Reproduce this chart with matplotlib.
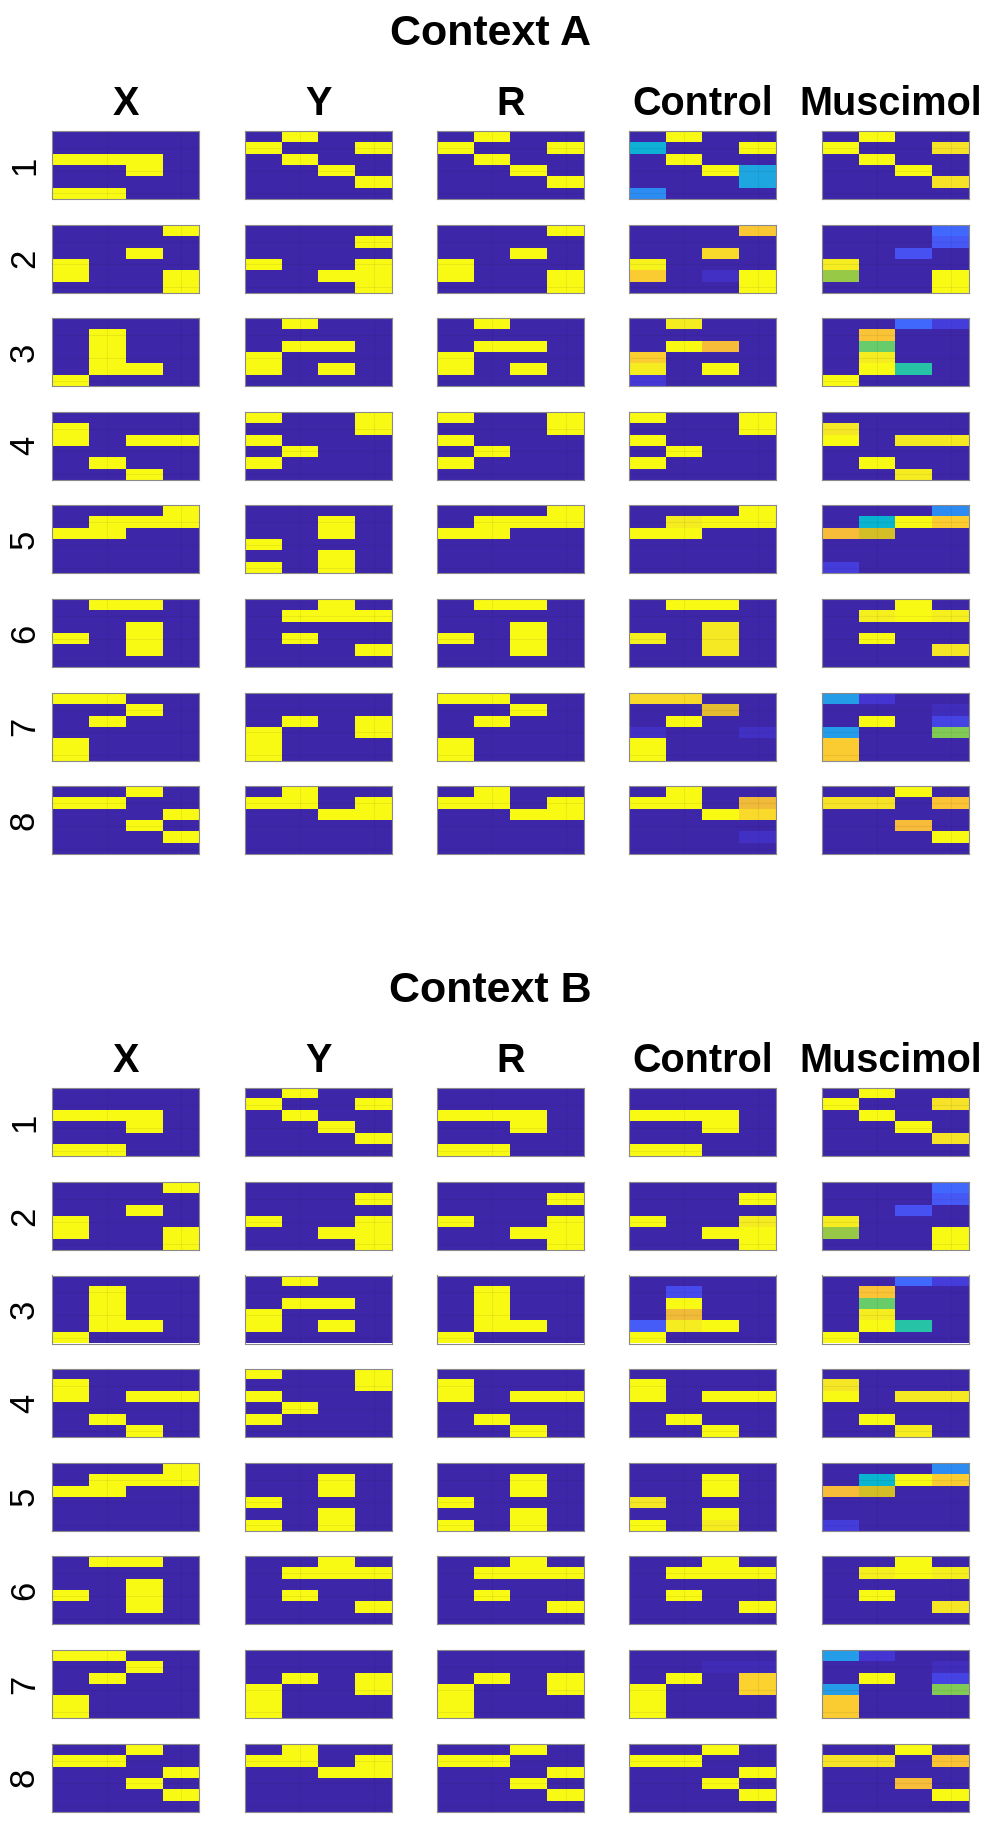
import numpy as np
import matplotlib
matplotlib.use("Agg")
import matplotlib.pyplot as plt
from matplotlib.colors import LinearSegmentedColormap

# ---------------- data ----------------
CONTEXTS = ["Context A", "Context B"]
COLUMNS = ["X", "Y", "R", "Control", "Muscimol"]
ROW_LABELS = ["1", "2", "3", "4", "5", "6", "7", "8"]

X_PATTERNS = [
    [[0, 0, 0, 0], [0, 0, 0, 0], [1, 1, 1, 0], [0, 0, 1, 0], [0, 0, 0, 0], [1, 1, 0, 0]],
    [[0, 0, 0, 1], [0, 0, 0, 0], [0, 0, 1, 0], [1, 0, 0, 0], [1, 0, 0, 1], [0, 0, 0, 1]],
    [[0, 0, 0, 0], [0, 1, 0, 0], [0, 1, 0, 0], [0, 1, 0, 0], [0, 1, 1, 0], [1, 0, 0, 0]],
    [[0, 0, 0, 0], [1, 0, 0, 0], [1, 0, 1, 1], [0, 0, 0, 0], [0, 1, 0, 0], [0, 0, 1, 0]],
    [[0, 0, 0, 1], [0, 1, 1, 1], [1, 1, 0, 0], [0, 0, 0, 0], [0, 0, 0, 0], [0, 0, 0, 0]],
    [[0, 1, 1, 0], [0, 0, 0, 0], [0, 0, 1, 0], [1, 0, 1, 0], [0, 0, 1, 0], [0, 0, 0, 0]],
    [[1, 1, 0, 0], [0, 0, 1, 0], [0, 1, 0, 0], [0, 0, 0, 0], [1, 0, 0, 0], [1, 0, 0, 0]],
    [[0, 0, 1, 0], [1, 1, 0, 0], [0, 0, 0, 1], [0, 0, 1, 0], [0, 0, 0, 1], [0, 0, 0, 0]],
]

Y_PATTERNS = [
    [[0, 1, 0, 0], [1, 0, 0, 1], [0, 1, 0, 0], [0, 0, 1, 0], [0, 0, 0, 1], [0, 0, 0, 0]],
    [[0, 0, 0, 0], [0, 0, 0, 1], [0, 0, 0, 0], [1, 0, 0, 1], [0, 0, 1, 1], [0, 0, 0, 1]],
    [[0, 1, 0, 0], [0, 0, 0, 0], [0, 1, 1, 0], [1, 0, 0, 0], [1, 0, 1, 0], [0, 0, 0, 0]],
    [[1, 0, 0, 1], [0, 0, 0, 1], [1, 0, 0, 0], [0, 1, 0, 0], [1, 0, 0, 0], [0, 0, 0, 0]],
    [[0, 0, 0, 0], [0, 0, 1, 0], [0, 0, 1, 0], [1, 0, 0, 0], [0, 0, 1, 0], [1, 0, 1, 0]],
    [[0, 0, 1, 0], [0, 1, 1, 1], [0, 0, 0, 0], [0, 1, 0, 0], [0, 0, 0, 1], [0, 0, 0, 0]],
    [[0, 0, 0, 0], [0, 0, 0, 0], [0, 1, 0, 1], [1, 0, 0, 1], [1, 0, 0, 0], [1, 0, 0, 0]],
    [[0, 1, 0, 0], [1, 1, 0, 1], [0, 0, 1, 1], [0, 0, 0, 0], [0, 0, 0, 0], [0, 0, 0, 0]],
]

# which pattern the "R" column shows in each row
R_SOURCE_A = ["Y", "X", "Y", "Y", "X", "X", "X", "Y"]
R_SOURCE_B = ["X", "Y", "X", "X", "Y", "Y", "Y", "X"]

CONTROL_A = [
    [[0, 1, 0, 0], [0.42, 0, 0, 1], [0, 1, 0, 0], [0, 0, 1, 0.38], [0, 0, 0, 0.38], [0.30, 0, 0, 0]],
    [[0, 0, 0, 0.85], [0, 0, 0, 0], [0, 0, 0.90, 0], [0.97, 0, 0, 0], [0.86, 0, 0.04, 1], [0, 0, 0, 1]],
    [[0, 0.95, 0, 0], [0, 0, 0, 0], [0, 1, 0.82, 0], [0.87, 0, 0, 0], [0.95, 0, 1, 0], [0.07, 0, 0, 0]],
    [[1, 0, 0, 1], [0, 0, 0, 1], [1, 0, 0, 0], [0, 1, 0, 0], [1, 0, 0, 0], [0, 0, 0, 0]],
    [[0, 0, 0, 1], [0, 0.95, 1, 1], [1, 1, 0, 0], [0, 0, 0, 0], [0, 0, 0, 0], [0, 0, 0, 0]],
    [[0, 1, 1, 0], [0, 0, 0, 0], [0, 0, 0.94, 0], [0.96, 0, 0.94, 0], [0, 0, 0.94, 0], [0, 0, 0, 0]],
    [[0.90, 0.90, 0, 0], [0, 0, 0.78, 0], [0, 1, 0, 0], [0.04, 0, 0, 0.04], [1, 0, 0, 0], [1, 0, 0, 0]],
    [[0, 1, 0, 0], [1, 1, 0, 0.80], [0, 0, 1, 0.90], [0, 0, 0, 0], [0, 0, 0, 0.04], [0, 0, 0, 0]],
]

CONTROL_B = [
    [[0, 0, 0, 0], [0, 0, 0, 0], [1, 1, 1, 0], [0, 0, 1, 0], [0, 0, 0, 0], [1, 1, 0, 0]],
    [[0, 0, 0, 0], [0, 0, 0, 1], [0, 0, 0, 0], [1, 0, 0, 0.95], [0, 0, 1, 1], [0, 0, 0, 1]],
    [[0, 0, 0, 0], [0, 0.12, 0, 0], [0, 1, 0, 0], [0, 0.80, 0, 0], [0.17, 0.95, 1, 0], [1, 0, 0, 0]],
    [[0, 0, 0, 0], [1, 0, 0, 0], [1, 0, 1, 1], [0, 0, 0, 0], [0, 1, 0, 0], [0, 0, 1, 0]],
    [[0, 0, 0, 0], [0, 0, 1, 0], [0, 0, 1, 0], [0.93, 0, 0, 0], [0, 0, 1, 0], [1, 0, 0.95, 0]],
    [[0, 0, 1, 0], [0, 1, 1, 1], [0, 0, 0, 0], [0, 1, 0, 0], [0, 0, 0, 1], [0, 0, 0, 0]],
    [[0, 0, 0, 0], [0, 0, 0.02, 0.02], [0, 1, 0, 0.88], [1, 0, 0, 0.88], [1, 0, 0, 0], [1, 0, 0, 0]],
    [[0, 0, 1, 0], [1, 1, 0, 0], [0, 0, 0, 1], [0, 0, 1, 0], [0, 0, 0, 1], [0, 0, 0, 0]],
]

MUSCIMOL_A = [
    [[0, 1, 0, 0], [1, 0, 0, 0.92], [0, 1, 0, 0], [0, 0, 1, 0], [0, 0, 0, 0.92], [0, 0, 0, 0]],
    [[0, 0, 0, 0.20], [0, 0, 0, 0.16], [0, 0, 0.14, 0], [0.95, 0, 0, 0], [0.68, 0, 0, 1], [0, 0, 0, 1]],
    [[0, 0, 0.20, 0.08], [0, 0.84, 0, 0], [0, 0.63, 0, 0], [0, 0.95, 0, 0], [0, 1, 0.53, 0], [1, 0, 0, 0]],
    [[0, 0, 0, 0], [0.93, 0, 0, 0], [1, 0, 0.94, 0.94], [0, 0, 0, 0], [0, 1, 0, 0], [0, 0, 0.95, 0]],
    [[0, 0, 0, 0.30], [0, 0.44, 1, 0.87], [0.82, 0.75, 0, 0], [0, 0, 0, 0], [0, 0, 0, 0], [0.08, 0, 0, 0]],
    [[0, 0, 1, 0], [0, 0.96, 1, 0.96], [0, 0, 0, 0], [0, 1, 0, 0], [0, 0, 0, 0.93], [0, 0, 0, 0]],
    [[0.35, 0.06, 0, 0], [0, 0, 0, 0.03], [0, 1, 0, 0.10], [0.35, 0, 0, 0.66], [0.86, 0, 0, 0], [0.86, 0, 0, 0]],
    [[0, 0, 1, 0], [0.92, 0.92, 0, 0.84], [0, 0, 0, 0], [0, 0, 0.82, 0], [0, 0, 0, 1], [0, 0, 0, 0]],
]
MUSCIMOL_B = MUSCIMOL_A

# ---------------- style ----------------
PARULA_ANCHORS = [
    (0.2422, 0.1504, 0.6603), (0.2706, 0.2147, 0.8364), (0.2813, 0.3006, 0.9414),
    (0.2699, 0.3892, 0.9906), (0.1963, 0.4847, 0.9892), (0.1687, 0.5703, 0.9359),
    (0.1248, 0.6459, 0.8883), (0.0297, 0.7082, 0.8163), (0.0964, 0.7500, 0.7120),
    (0.2161, 0.7843, 0.5923), (0.3909, 0.8029, 0.4354), (0.6174, 0.7876, 0.2612),
    (0.8203, 0.7498, 0.1535), (0.9728, 0.7298, 0.2394), (0.9892, 0.8136, 0.1885),
    (0.9597, 0.9135, 0.1423), (0.9769, 0.9839, 0.0805),
]
parula = LinearSegmentedColormap.from_list("parula", PARULA_ANCHORS, N=256)

plt.rcParams["font.family"] = ["Liberation Sans", "DejaVu Sans"]

W, H = 990, 1834
fig = plt.figure(figsize=(W / 100, H / 100), dpi=100)

PANEL_LEFTS = [52, 245, 437, 629, 822]
PANEL_W, PANEL_H = 147, 68
ROW_STEP = 93.6
CONTEXT_TOP = [131, 1088.3]
TITLE_BASE = [45, 1002]
HEADER_BASE = [115, 1072]


def fx(px):
    return px / W


def fy(py):
    return 1 - py / H


for ci, ctx in enumerate(CONTEXTS):
    r_src = R_SOURCE_A if ci == 0 else R_SOURCE_B
    ctrl = CONTROL_A if ci == 0 else CONTROL_B
    musc = MUSCIMOL_A if ci == 0 else MUSCIMOL_B
    fig.text(fx(490), fy(TITLE_BASE[ci]), ctx, ha="center", va="baseline",
             fontsize=31, fontweight="bold")
    for k, name in enumerate(COLUMNS):
        cx = PANEL_LEFTS[k] + PANEL_W / 2
        if name == "Muscimol":
            cx -= 5
        fig.text(fx(cx), fy(HEADER_BASE[ci]), name, ha="center", va="baseline",
                 fontsize=28.5, fontweight="bold")
    for ri in range(8):
        r_pat = X_PATTERNS[ri] if r_src[ri] == "X" else Y_PATTERNS[ri]
        mats = [X_PATTERNS[ri], Y_PATTERNS[ri], r_pat, ctrl[ri], musc[ri]]
        top = CONTEXT_TOP[ci] + ri * ROW_STEP
        for k in range(5):
            ax = fig.add_axes([fx(PANEL_LEFTS[k]), fy(top + PANEL_H),
                               fx(PANEL_W), PANEL_H / H])
            ax.imshow(np.array(mats[k], dtype=float), cmap=parula, vmin=0, vmax=1,
                      aspect="auto", interpolation="nearest")
            ax.set_xticks([1, 3])
            ax.set_yticks([1, 3, 5])
            ax.tick_params(length=0, labelbottom=False, labelleft=False)
            ax.grid(True, color="#202020", alpha=0.07, linewidth=0.8)
            for sp in ax.spines.values():
                sp.set_color("#8a8a8a")
                sp.set_linewidth(0.8)
            if k == 0:
                ax.set_ylabel(ROW_LABELS[ri], fontsize=25, rotation=90,
                              labelpad=8)

fig.savefig("out.png", dpi=100)
